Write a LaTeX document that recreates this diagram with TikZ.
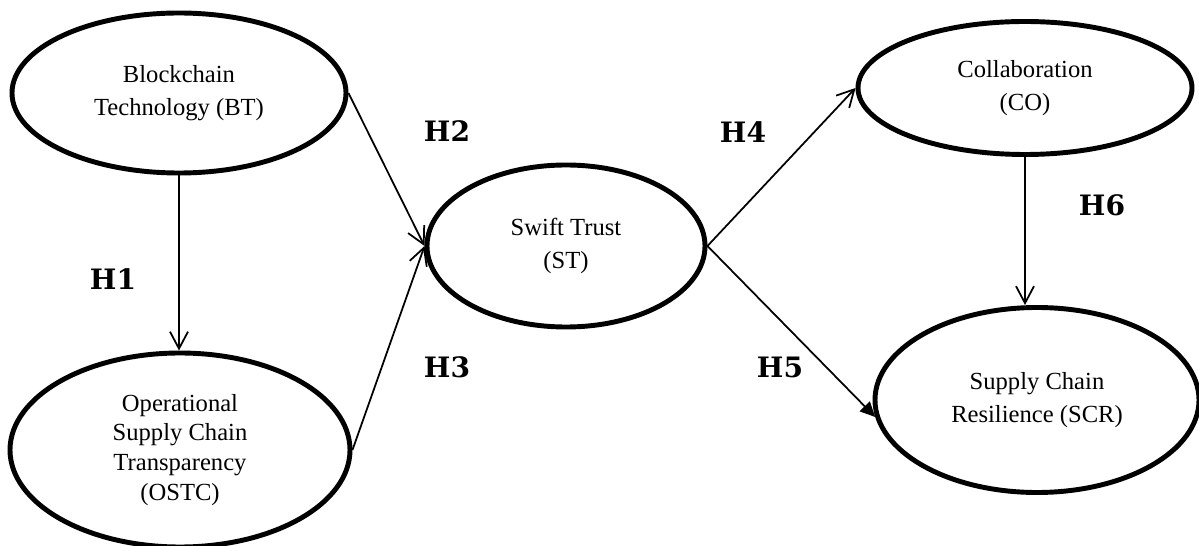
\documentclass[tikz,border=0pt]{standalone}
\usepackage{fontspec}
\setmainfont{Liberation Serif}
\newfontfamily\hypfont{DejaVu Serif}
\usepackage{tikz}
\usetikzlibrary{shapes.geometric,arrows.meta}
\tikzstyle{line} = [draw, line width=1pt, -{Straight Barb[length=0.34cm,width=0.36cm]}]
\tikzstyle{fline} = [draw, line width=1pt, -{Triangle[length=0.3cm,width=0.28cm]}]
\tikzstyle{construct} = [ellipse, draw=black, line width=2.8pt, align=center, inner sep=0pt, font=\fontsize{14}{18.8}\selectfont]
\tikzstyle{hyp} = [font=\hypfont\bfseries\fontsize{16}{18}\selectfont]

\begin{document}
\begin{tikzpicture}
				\useasboundingbox (0,0) rectangle (23.98,-10.92);
				% Place nodes
				\node [construct, minimum width=6.68cm, minimum height=3.2cm] (bt) at (3.58,-1.86) {Blockchain \\ Technology (BT)};
				\node [construct, minimum width=6.8cm, minimum height=3.88cm, font=\fontsize{14}{17}\selectfont] (ostc) at (3.6,-9.0) {Operational \\ Supply Chain \\ Transparency \\ (OSTC)};
				\node [construct, minimum width=5.56cm, minimum height=3.24cm] (st) at (11.32,-4.92) {Swift Trust \\ (ST)};
				\node [construct, minimum width=6.68cm, minimum height=2.66cm] (co) at (20.5,-1.76) {Collaboration \\ (CO)};
				\node [construct, minimum width=6.48cm, minimum height=3.7cm] (scr) at (20.74,-8.0) {Supply Chain \\ Resilience (SCR)};
				% Hypothesis labels
				\node [hyp] (h1) at (2.26,-5.58) {H1};
				\node [hyp] (h2) at (8.94,-2.62) {H2};
				\node [hyp] (h3) at (8.94,-7.34) {H3};
				\node [hyp] (h4) at (14.86,-2.64) {H4};
				\node [hyp] (h5) at (15.6,-7.34) {H5};
				\node [hyp] (h6) at (22.04,-4.1) {H6};
				% Draw edges
				\path [line] (bt.south) -- (bt.south |- ostc.north);
				\path [line] (bt.east) -- (st.west);
				\path [line] (ostc.east) -- (st.west);
				\path [line] (st.east) -- (co.west);
				\path [fline] (st.east) -- (scr.186);
				\path [line] (co.south) -- (co.south |- scr.north);
\end{tikzpicture}
\end{document}
